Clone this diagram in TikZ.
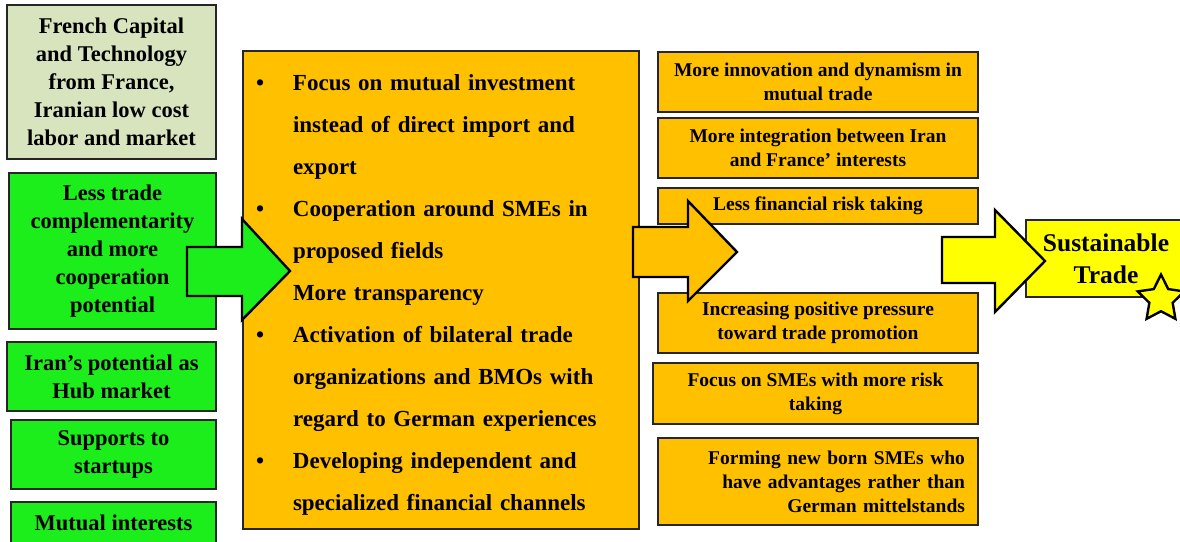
\documentclass[tikz,border=0pt]{standalone}
\usepackage{fontspec}
\setmainfont{Liberation Serif}
\usetikzlibrary{shapes.geometric}

\definecolor{sand}{RGB}{216,228,190}
\definecolor{lime}{RGB}{28,238,28}
\definecolor{amber}{RGB}{255,192,0}
\definecolor{lemon}{RGB}{255,255,0}

\newcommand\blt{\makebox[37pt][l]{\textbullet}}
\newcommand\ind{\hspace*{37pt}}

\tikzset{
  box/.style={rectangle, draw=black!85, line width=1.3pt, inner sep=0pt, align=center},
  leftbox/.style={box, fill=lime, font=\bfseries\fontsize{22.5}{28}\selectfont},
  rightbox/.style={box, fill=amber, minimum width=320pt, font=\bfseries\fontsize{19.5}{24}\selectfont},
  midbox/.style={box, fill=amber, minimum width=396pt, minimum height=478pt},
  midtext/.style={align=left, text width=370pt, inner sep=0pt,
    font=\bfseries\fontsize{23}{42}\selectfont},
  goalbox/.style={box, fill=lemon, font=\bfseries\fontsize{25.5}{32}\selectfont},
  bigarrow/.style={draw=black, line width=2.4pt, line join=miter},
}

\begin{document}
\begin{tikzpicture}[x=1pt, y=-1pt]
  \useasboundingbox (0,0) rectangle (1180,541);
  % left column
  \node[leftbox, fill=sand, minimum width=209pt, minimum height=154pt] (capital) at (111.5,82)
    {French Capital\\and Technology\\from France,\\Iranian low cost\\labor and market};
  \node[leftbox, minimum width=207pt, minimum height=156pt] (potential) at (112.5,251)
    {Less trade\\complementarity\\and more\\cooperation\\potential};
  \node[leftbox, minimum width=209pt, minimum height=69pt] (hub) at (111.5,376.5)
    {Iran’s potential as\\Hub market};
  \node[leftbox, minimum width=205pt, minimum height=69pt] (startups) at (113.5,454.5)
    {Supports to\\startups};
  \node[leftbox, minimum width=205pt, minimum height=41pt] (mutual) at (113.5,522.5)
    {Mutual interests};

  % middle column
  \node[midbox] (plan) at (441,290) {};
  \node[midtext] (plantext) at ([yshift=-5pt]plan.center)
    {\blt Focus on mutual investment\\
     \ind instead of direct import and\\
     \ind export\\
     \blt Cooperation around SMEs in\\
     \ind proposed fields\\
     \ind More transparency\\
     \blt Activation of bilateral trade\\
     \ind organizations and BMOs with\\
     \ind regard to German experiences\\
     \blt Developing independent and\\
     \ind specialized financial channels};

  % right column
  \node[rightbox, minimum height=60pt] (innov) at (818,82)
    {More innovation and dynamism in\\mutual trade};
  \node[rightbox, minimum height=60pt] (integ) at (818,148)
    {More integration between Iran\\and France’ interests};
  \node[rightbox, minimum height=36pt] (risk) at (818,206)
    {Less financial risk taking};
  \node[rightbox, minimum height=60pt] (press) at (818,323)
    {Increasing positive pressure\\toward trade promotion};
  \node[rightbox, minimum width=325pt, minimum height=61pt] (smes) at (815.5,393.5)
    {Focus on SMEs with more risk\\taking};
  \node[rightbox, minimum height=87pt, text width=294pt, align=right] (newborn) at (818,481.5)
    {Forming new born SMEs who\\have advantages rather than\\German mittelstands};

  % goal
  \node[goalbox, minimum width=160pt, minimum height=77pt] (goal) at (1106,258.5)
    {Sustainable\\Trade};

  % block arrows
  \draw[bigarrow, fill=lime] (187,247) -- (242,247) -- (242,219) -- (290,271)
    -- (242,320) -- (242,296) -- (187,296) -- cycle;
  \draw[bigarrow, fill=amber] (633,227) -- (688,227) -- (688,201) -- (737,252)
    -- (688,301) -- (688,277) -- (633,277) -- cycle;
  \draw[bigarrow, fill=lemon] (942,237) -- (995,237) -- (995,210) -- (1045,261)
    -- (995,312) -- (995,283) -- (942,283) -- cycle;

  \node[star, star points=5, star point ratio=2.0, minimum size=49pt, inner sep=0pt,
    draw=black, line width=2.4pt, fill=lemon] (badge) at (1161,299) {};
\end{tikzpicture}
\end{document}
